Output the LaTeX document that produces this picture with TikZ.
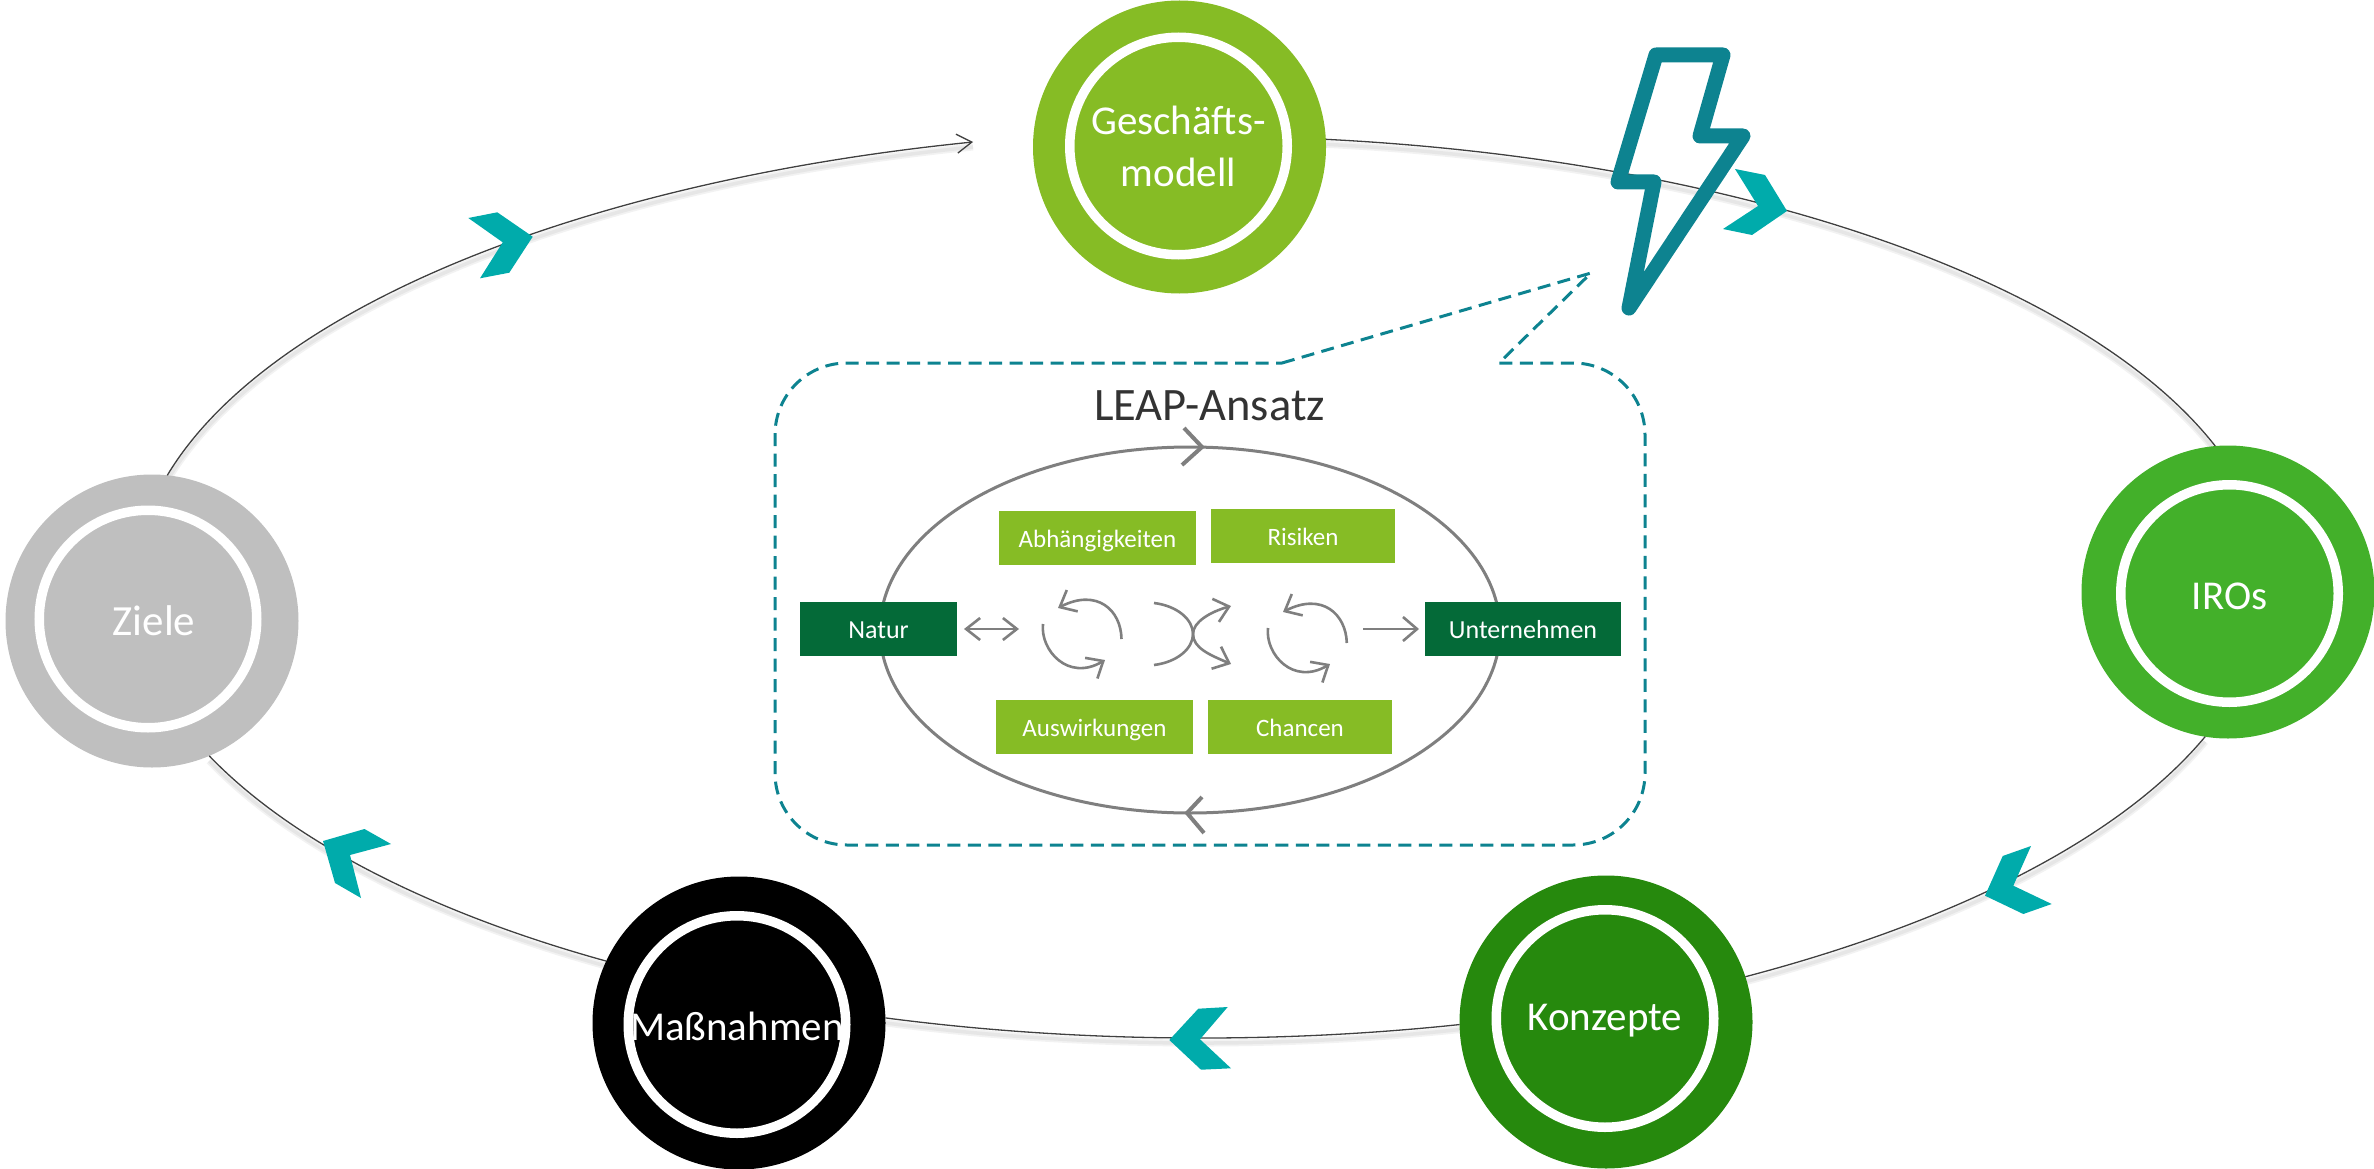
\documentclass[tikz,border=0pt]{standalone}
\usepackage{fontspec}
\setmainfont{Carlito}
\usetikzlibrary{arrows.meta,shapes.geometric,backgrounds}
\definecolor{cGm}{HTML}{86BC25}
\definecolor{cIro}{HTML}{43B02A}
\definecolor{cKon}{HTML}{26890D}
\definecolor{cDark}{HTML}{046A38}
\definecolor{cZiel}{HTML}{BFBFBF}
\definecolor{cTeal}{HTML}{00ABAB}
\definecolor{cBolt}{HTML}{0D8390}
\definecolor{cGray}{HTML}{7F7F7F}
\definecolor{cRing}{HTML}{404040}
\definecolor{cTitle}{HTML}{333333}
\newcommand\ringctl[3]{%
  \pgfmathsetmacro\kk{4/3*tan((#3-(#2))/4)}%
  \coordinate (#1a) at ({1199+1067*cos(#2)-\kk*1067*sin(#2)},{587+451*sin(#2)+\kk*451*cos(#2)});%
  \coordinate (#1b) at ({1199+1067*cos(#3)+\kk*1067*sin(#3)},{587+451*sin(#3)-\kk*451*cos(#3)});%
}
\newcommand\ringpaths[1]{%
  \draw[#1] (gm.3) .. controls (Aa) and (Ab) .. (iro.95.5);
  \draw[#1] (iro.261) .. controls (Ba) and (Bb) .. (kon.18.9);
  \draw[#1] (kon.181) .. controls (Ca) and (Cb) .. (mas.2);
  \draw[#1] (mas.155.6) .. controls (Da) and (Db) .. (zie.293.2);
  \draw[#1] (zie.84.3) .. controls (Ea) and (Eb) .. (ringend);
}
\tikzset{
  outerdisc/.style={circle,minimum size=293pt,inner sep=0pt,outer sep=0pt,fill=#1},
  innerdisc/.style={circle,minimum size=217.5pt,inner sep=0pt,outer sep=0pt,draw=white,line width=9.5pt,fill=#1,text=white,
     font=\fontsize{41}{52}\selectfont,align=center},
  oneline/.style={text height=32pt,text depth=0pt},
  ringline/.style={draw=cRing,line width=1.3pt},
  ringshadow/.style={draw=black,line width=#1,opacity=.05,transform canvas={yshift=-5pt}},
  lightbox/.style={fill=cGm,minimum height=54pt,inner sep=0pt,outer sep=0pt,text=white,
     font=\fontsize{25}{30}\selectfont,text height=19pt,text depth=0pt},
  darkbox/.style={fill=cDark,minimum height=54pt,inner sep=0pt,outer sep=0pt,text=white,
     font=\fontsize{26}{30}\selectfont,text height=19pt,text depth=0pt},
  grayline/.style={draw=cGray,line width=2.6pt},
  barbtip/.style={-{Straight Barb[length=14pt,width=24pt,line width=2.6pt]}},
  chev/.style={fill=cTeal,draw=none},
}
\begin{document}
\begin{tikzpicture}[x=1pt,y=-1pt]
\useasboundingbox (0,0) rectangle (2374,1169);
% ring control points
\ringctl{A}{-83.2}{-18}
\ringctl{B}{19.5}{59.2}
\ringctl{C}{75.8}{107.1}
\ringctl{D}{123.7}{158}
\ringctl{E}{194.5}{258}
\coordinate (ringend) at (973,142);
% discs
\node[outerdisc=cGm] (gm) at (1179.5,147) {};
\node[innerdisc=cGm] (gmi) at (1178.5,146) {Geschäfts-\\modell};
\node[outerdisc=cIro] (iro) at (2228,592) {};
\node[innerdisc=cIro,oneline] (iroi) at (2229.5,593.5) {IROs};
\node[outerdisc=cKon] (kon) at (1606,1022) {};
\node[innerdisc=cKon,oneline,text height=24pt] (koni) at (1605,1018.5) {Konzepte};
\node[outerdisc=black] (mas) at (739,1023) {};
\node[innerdisc=black,oneline] (masi) at (737,1024.5) {Maßnahmen};
\node[outerdisc=cZiel] (zie) at (152,621) {};
\node[innerdisc=cZiel,oneline,font=\fontsize{43}{52}\selectfont] (ziei) at (148,619) {\hspace*{12pt}Ziele};
% ring
\begin{pgfonlayer}{background}
  \ringpaths{ringshadow=7pt}
  \ringpaths{ringshadow=3.5pt}
\end{pgfonlayer}
\draw[ringline] (gm.3) .. controls (Aa) and (Ab) .. (iro.95.5);
\draw[ringline] (iro.261) .. controls (Ba) and (Bb) .. (kon.18.9);
\draw[ringline] (kon.181) .. controls (Ca) and (Cb) .. (mas.2);
\draw[ringline] (mas.155.6) .. controls (Da) and (Db) .. (zie.293.2);
\draw[ringline,-{Straight Barb[length=15pt,width=19pt,line width=1.3pt]}] (zie.84.3) .. controls (Ea) and (Eb) .. (ringend);
% chevrons
\fill[chev] (468.3,218) -- (497.3,212.3) -- (532.7,236.7) -- (509.3,272.7) -- (480,278.3) -- (502.7,242.3) -- cycle;
\fill[chev] (1735,169) -- (1765,175) -- (1787,211) -- (1752,235) -- (1723,229) -- (1758,206) -- cycle;
\fill[chev] (2031,846) -- (2002.7,856) -- (1985,895.7) -- (2023.3,914) -- (2051.7,904) -- (2013.3,885.7) -- cycle;
\fill[chev] (1227.7,1007) -- (1198.3,1008.7) -- (1169.3,1040) -- (1201,1069.7) -- (1231,1068.3) -- (1200,1039.3) -- cycle;
\fill[chev] (323,841) -- (364.5,829) -- (391,844) -- (350,855) -- (361,898) -- (335,883) -- cycle;
% lightning bolt
\draw[cBolt,line width=15pt,line join=round] (1656,55) -- (1723,55) -- (1700,136) -- (1743,136) -- (1629,308) -- (1654,182) -- (1618,182) -- cycle;
% callout
\draw[cBolt,line width=3pt,dash pattern=on 13pt off 7.5pt]
  (1282,363) -- (1591,273) -- (1499,363) -- (1573,363)
  .. controls (1613,363) and (1645,395) .. (1645,435) -- (1645,773)
  .. controls (1645,813) and (1613,845) .. (1573,845) -- (847,845)
  .. controls (807,845) and (775,813) .. (775,773) -- (775,435)
  .. controls (775,395) and (807,363) .. (847,363) -- cycle;
\node[text=cTitle,font=\fontsize{46.5}{50}\selectfont,anchor=base,inner sep=0pt] (title) at (1209.5,420) {LEAP-Ansatz};
% LEAP ring
\node[ellipse,draw=cGray,line width=3pt,minimum width=620pt,minimum height=366pt,inner sep=0pt] (leap) at (1190,630) {};
\draw[grayline,line width=4pt,line join=miter] (1184,428) -- (1202,447) -- (1182,465);
\draw[grayline,line width=4pt,line join=miter] (1202,797) -- (1187,813) -- (1204,833);
% boxes
\node[lightbox,minimum width=197pt] (abh) at (1097.5,538) {Abhängigkeiten};
\node[lightbox,minimum width=184pt] (ris) at (1303,536) {Risiken};
\node[lightbox,minimum width=197pt] (aus) at (1094.5,727) {Auswirkungen};
\node[lightbox,minimum width=184pt] (cha) at (1300,727) {Chancen};
\node[darkbox,minimum width=157pt] (nat) at (878.5,629) {Natur};
\node[darkbox,minimum width=196pt] (unt) at (1523,629) {Unternehmen};
% small arrows
\coordinate (da) at (1019,629);
\coordinate (ua) at (1363,629);
\draw[grayline,{Straight Barb[length=14pt,width=22pt,line width=2.6pt]}-{Straight Barb[length=14pt,width=22pt,line width=2.6pt]}] ([xshift=7pt]nat.east) -- (da);
\draw[grayline,barbtip] (ua) -- ([xshift=-6pt]unt.west);
% left circular pair
\draw[grayline,barbtip] (1121.5,639) .. controls (1121,610) and (1097,588) .. (1058,608);
\draw[grayline,barbtip] (1043,624) .. controls (1040,650) and (1068,682) .. (1105,660);
% crossing
\draw[grayline] (1154,603) .. controls (1178,606) and (1193,620) .. (1193,634) .. controls (1193,648) and (1178,662) .. (1154,665);
\coordinate (xm) at (1193,634);
\draw[grayline,barbtip] (xm) .. controls (1193,622) and (1210,612) .. (1231,606);
\draw[grayline,barbtip] (xm) .. controls (1193,648) and (1210,655) .. (1231,664);
% right circular pair
\draw[grayline,barbtip] (1346.8,643) .. controls (1346,614) and (1322,592) .. (1283,612);
\draw[grayline,barbtip] (1268,628) .. controls (1265,654) and (1293,686) .. (1330,664);
\end{tikzpicture}
\end{document}
